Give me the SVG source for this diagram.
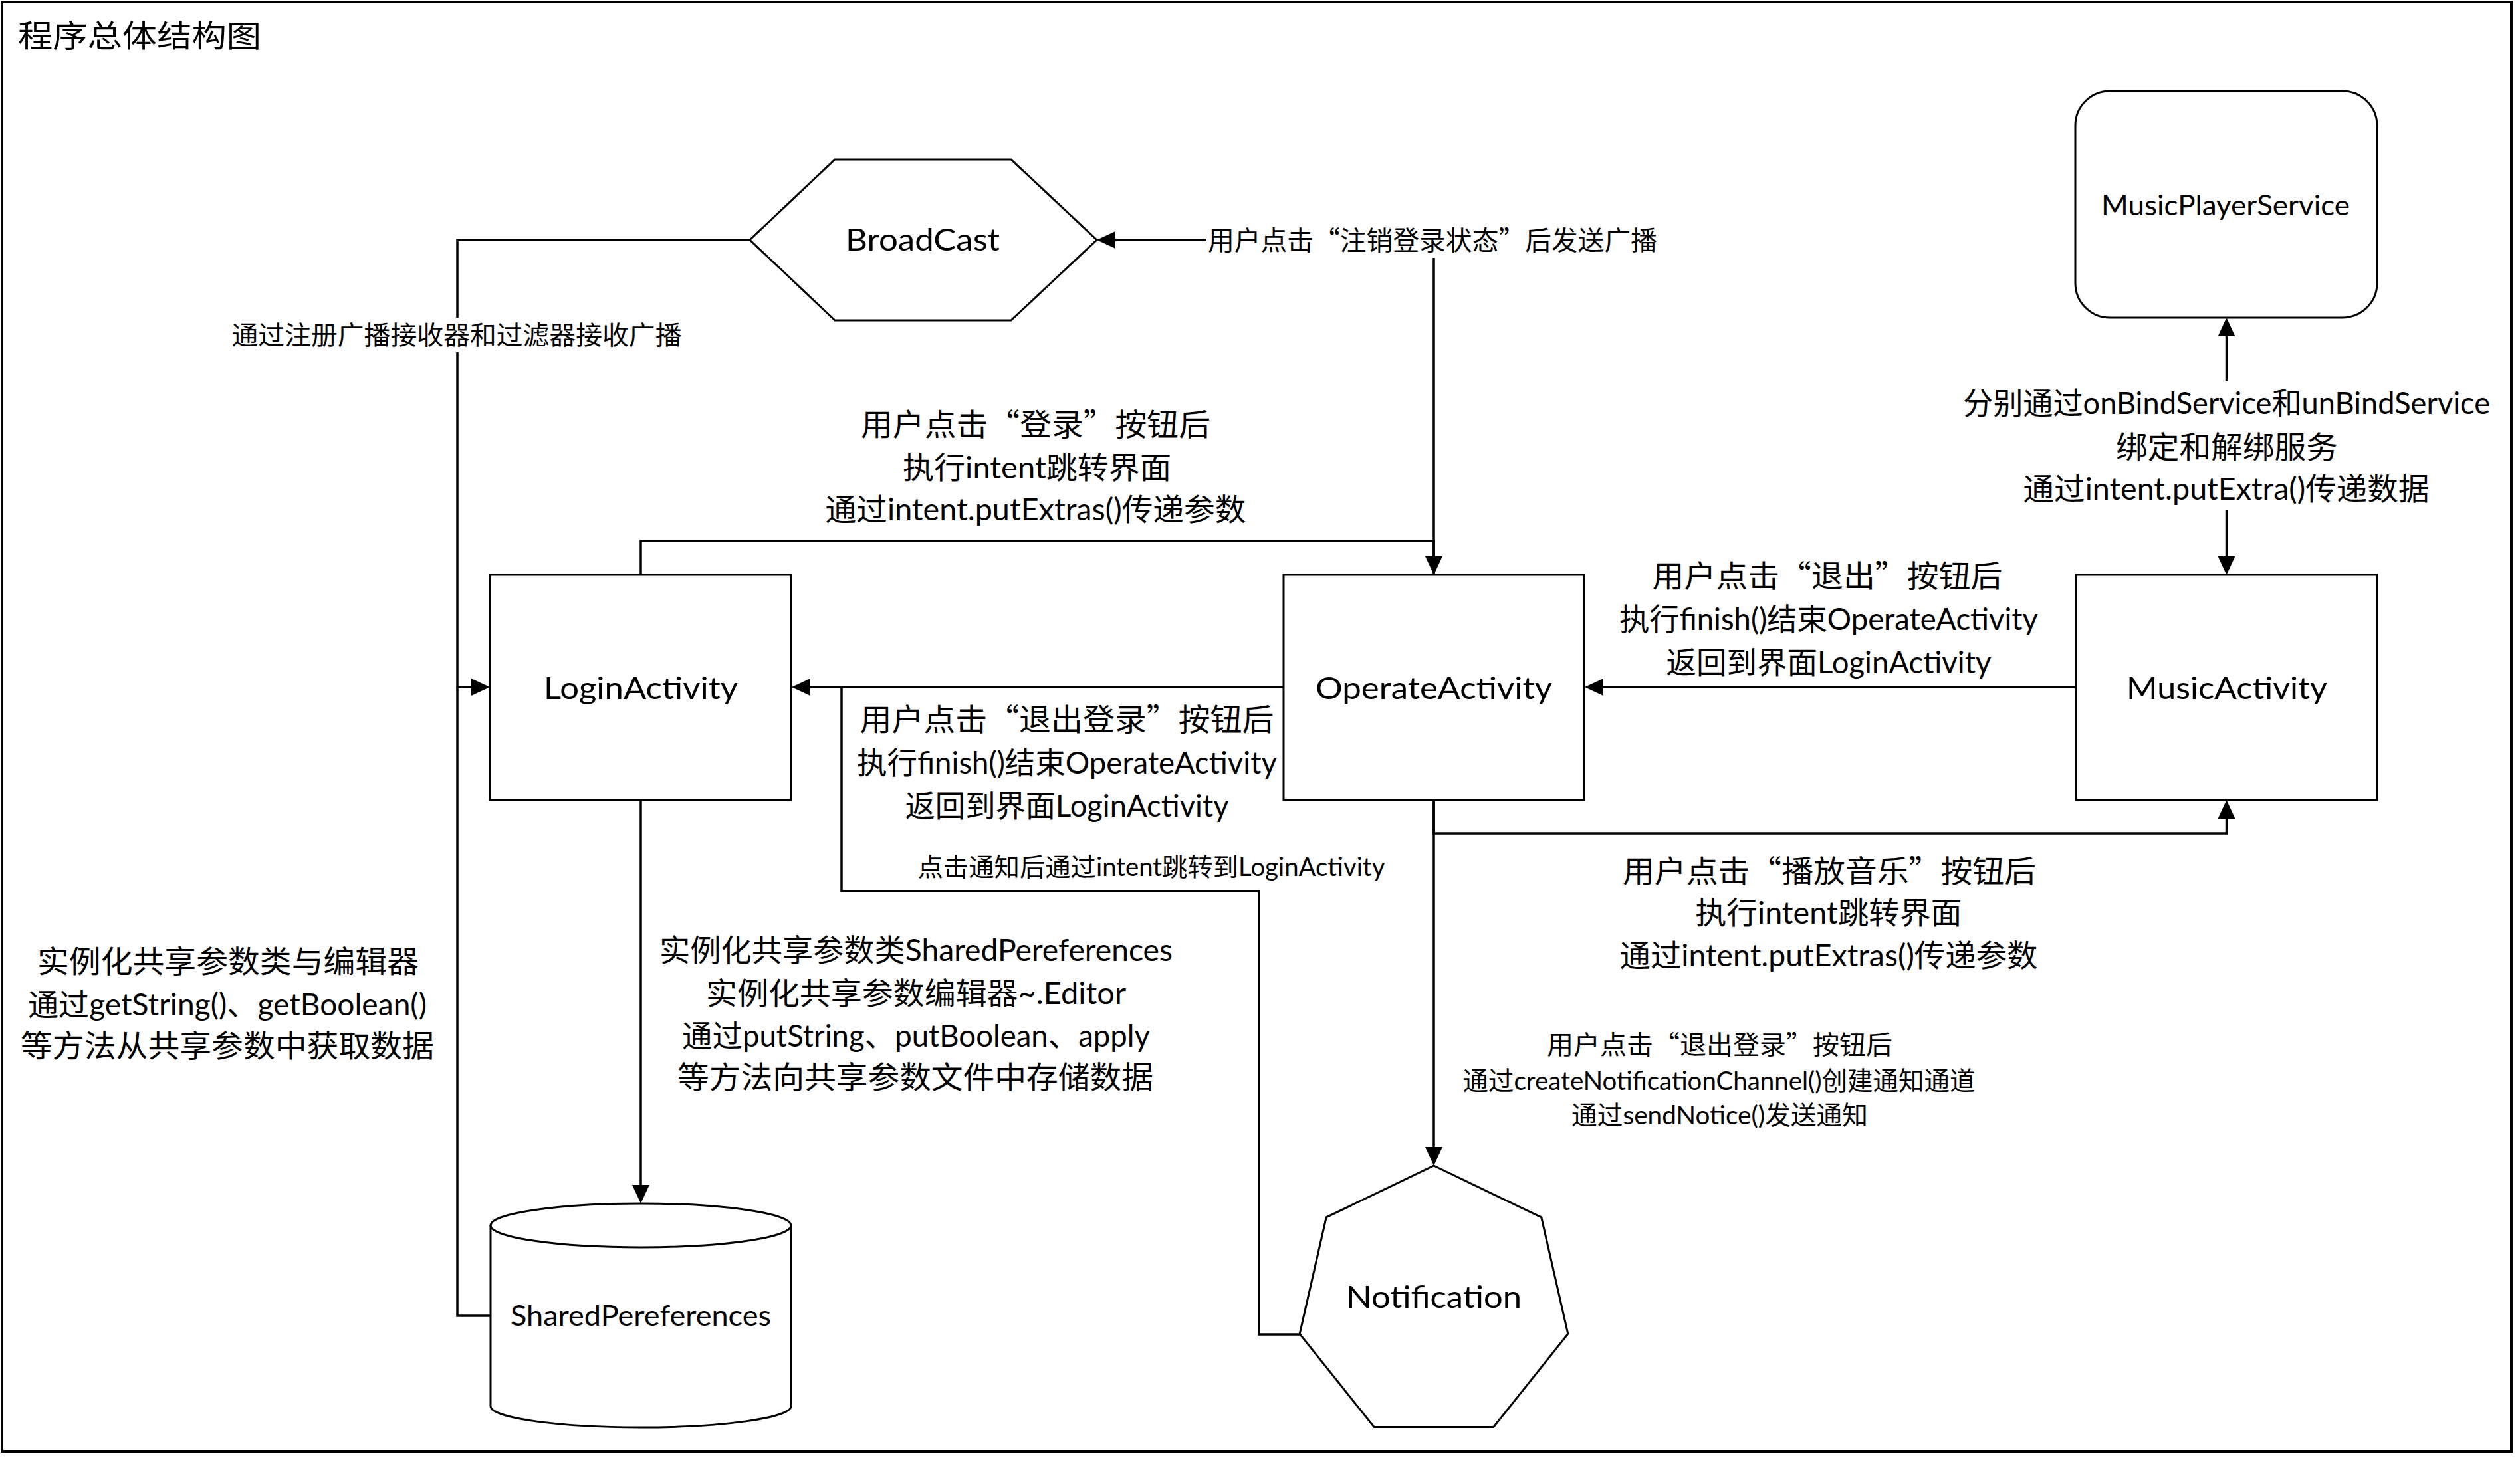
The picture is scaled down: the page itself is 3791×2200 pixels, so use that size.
<svg xmlns="http://www.w3.org/2000/svg" width="3791" height="2200" viewBox="0 0 3791 2200">
  <style>
    .t { font-family: Lato, "Noto Sans CJK SC", sans-serif; fill: #000; }
    .q { font-family: "Noto Sans CJK SC", sans-serif; }
    .c { text-anchor: middle; }
    .lbl { font-size: 46px; }
    .sm { font-size: 39px; }
    .nd { font-size: 47px; }
    .nd2 { font-size: 42px; }
    .shape { fill: #fff; stroke: #000; stroke-width: 3; }
    .wire { fill: none; stroke: #000; stroke-width: 3.5; }
    .bg { fill: #fff; stroke: none; }
  </style>
  <defs>
    <marker id="arrow" markerUnits="userSpaceOnUse" markerWidth="30" markerHeight="28" viewBox="0 -14 30 28" refX="0" refY="0" orient="auto-start-reverse">
      <path d="M0,-13 L28,0 L0,13 Z" fill="#000"/>
    </marker>
  </defs>

  <!-- frame -->
  <rect x="0" y="0" width="3791" height="2200" fill="#fff"/>
  <rect x="3" y="3" width="3775" height="2181" fill="none" stroke="#000" stroke-width="4"/>
  <text class="t" x="27" y="70" font-size="46" textLength="366" lengthAdjust="spacingAndGlyphs">程序总体结构图</text>

  <!-- connectors -->
  <g id="connectors">
    <!-- BroadCast -> LoginActivity -->
    <path class="wire" d="M1128,361 H688 V1034 H709" marker-end="url(#arrow)"/>
    <!-- SharedPereferences -> LoginActivity -->
    <path class="wire" d="M738,1980 H688 V1034"/>
    <!-- LoginActivity -> OperateActivity -->
    <path class="wire" d="M964,865 V814 H2157 V837" marker-end="url(#arrow)"/>
    <!-- OperateActivity -> BroadCast -->
    <path class="wire" d="M2157,865 V361 H1678" marker-end="url(#arrow)"/>
    <!-- OperateActivity -> LoginActivity -->
    <path class="wire" d="M1931,1034 H1219" marker-end="url(#arrow)"/>
    <!-- Notification -> LoginActivity -->
    <path class="wire" d="M1955,2008 H1894 V1341 H1266 V1034"/>
    <!-- LoginActivity -> SharedPereferences -->
    <path class="wire" d="M964,1204 V1783" marker-end="url(#arrow)"/>
    <!-- MusicActivity -> OperateActivity -->
    <path class="wire" d="M3123,1034 H2412" marker-end="url(#arrow)"/>
    <!-- OperateActivity -> MusicActivity -->
    <path class="wire" d="M2157,1204 V1254 H3349.5 V1232" marker-end="url(#arrow)"/>
    <!-- OperateActivity -> Notification -->
    <path class="wire" d="M2157,1204 V1726" marker-end="url(#arrow)"/>
    <!-- MusicActivity <-> MusicPlayerService -->
    <path class="wire" d="M3349.5,837 V506" marker-start="url(#arrow)" marker-end="url(#arrow)"/>

    <!-- connector labels -->
    <rect class="bg" x="345" y="478" width="684" height="52"/>
    <text class="t c sm" x="687" y="518" textLength="677" lengthAdjust="spacingAndGlyphs">通过注册广播接收器和过滤器接收广播</text>

    <rect class="bg" x="1815" y="338" width="682" height="50"/>
    <text class="t c" font-size="40" x="2155" y="376" textLength="676" lengthAdjust="spacingAndGlyphs">用户点击<tspan class="q">“</tspan>注销登录状态<tspan class="q">”</tspan>后发送广播</text>

    <text class="t c lbl" x="1558" y="655" textLength="526" lengthAdjust="spacingAndGlyphs">用户点击<tspan class="q">“</tspan>登录<tspan class="q">”</tspan>按钮后</text>
    <text class="t c lbl" x="1560" y="720" textLength="404" lengthAdjust="spacingAndGlyphs">执行intent跳转界面</text>
    <text class="t c lbl" x="1558" y="783" textLength="633" lengthAdjust="spacingAndGlyphs">通过intent.putExtras()传递参数</text>

    <text class="t c lbl" x="1605" y="1099" textLength="623" lengthAdjust="spacingAndGlyphs">用户点击<tspan class="q">“</tspan>退出登录<tspan class="q">”</tspan>按钮后</text>
    <text class="t c lbl" x="1605" y="1164" textLength="632" lengthAdjust="spacingAndGlyphs">执行finish()结束OperateActivity</text>
    <text class="t c lbl" x="1605" y="1229" textLength="487" lengthAdjust="spacingAndGlyphs">返回到界面LoginActivity</text>

    <text class="t c" font-size="38" x="1732" y="1318" textLength="703" lengthAdjust="spacingAndGlyphs">点击通知后通过intent跳转到LoginActivity</text>

    <text class="t c lbl" x="2749" y="883" textLength="527" lengthAdjust="spacingAndGlyphs">用户点击<tspan class="q">“</tspan>退出<tspan class="q">”</tspan>按钮后</text>
    <text class="t c lbl" x="2751" y="948" textLength="630" lengthAdjust="spacingAndGlyphs">执行finish()结束OperateActivity</text>
    <text class="t c lbl" x="2751" y="1013" textLength="489" lengthAdjust="spacingAndGlyphs">返回到界面LoginActivity</text>

    <text class="t c lbl" x="2752" y="1327" textLength="622" lengthAdjust="spacingAndGlyphs">用户点击<tspan class="q">“</tspan>播放音乐<tspan class="q">”</tspan>按钮后</text>
    <text class="t c lbl" x="2751" y="1390" textLength="401" lengthAdjust="spacingAndGlyphs">执行intent跳转界面</text>
    <text class="t c lbl" x="2751" y="1454" textLength="629" lengthAdjust="spacingAndGlyphs">通过intent.putExtras()传递参数</text>

    <text class="t c sm" x="2587" y="1586" textLength="520" lengthAdjust="spacingAndGlyphs">用户点击<tspan class="q">“</tspan>退出登录<tspan class="q">”</tspan>按钮后</text>
    <text class="t c sm" x="2586" y="1640" textLength="771" lengthAdjust="spacingAndGlyphs">通过createNotificationChannel()创建通知通道</text>
    <text class="t c sm" x="2587" y="1692" textLength="446" lengthAdjust="spacingAndGlyphs">通过sendNotice()发送通知</text>

    <text class="t c lbl" x="343" y="1463" textLength="574" lengthAdjust="spacingAndGlyphs">实例化共享参数类与编辑器</text>
    <text class="t c lbl" x="342" y="1528" textLength="600" lengthAdjust="spacingAndGlyphs">通过getString()、getBoolean()</text>
    <text class="t c lbl" x="342" y="1590" textLength="622" lengthAdjust="spacingAndGlyphs">等方法从共享参数中获取数据</text>

    <text class="t c lbl" x="1378" y="1446" textLength="772" lengthAdjust="spacingAndGlyphs">实例化共享参数类SharedPereferences</text>
    <text class="t c lbl" x="1378" y="1511" textLength="632" lengthAdjust="spacingAndGlyphs">实例化共享参数编辑器~.Editor</text>
    <text class="t c lbl" x="1378" y="1575" textLength="704" lengthAdjust="spacingAndGlyphs">通过putString、putBoolean、apply</text>
    <text class="t c lbl" x="1377" y="1637" textLength="716" lengthAdjust="spacingAndGlyphs">等方法向共享参数文件中存储数据</text>

    <rect class="bg" x="2948" y="573" width="802" height="195"/>
    <text class="t c lbl" x="3349.5" y="623" textLength="793" lengthAdjust="spacingAndGlyphs">分别通过onBindService和unBindService</text>
    <text class="t c lbl" x="3350" y="689" textLength="334" lengthAdjust="spacingAndGlyphs">绑定和解绑服务</text>
    <text class="t c lbl" x="3349" y="752" textLength="611" lengthAdjust="spacingAndGlyphs">通过intent.putExtra()传递数据</text>
  </g>

  <!-- nodes -->
  <g id="broadcast">
    <polygon class="shape" points="1128,361 1256,240 1521,240 1650,361 1521,482 1256,482"/>
    <text class="t c nd" x="1388" y="377" textLength="232" lengthAdjust="spacingAndGlyphs">BroadCast</text>
  </g>
  <g id="login-activity">
    <rect class="shape" x="737" y="865" width="453" height="339"/>
    <text class="t c nd" x="964" y="1052" textLength="292" lengthAdjust="spacingAndGlyphs">LoginActivity</text>
  </g>
  <g id="operate-activity">
    <rect class="shape" x="1931" y="865" width="452" height="339"/>
    <text class="t c nd" x="2157" y="1052" textLength="356" lengthAdjust="spacingAndGlyphs">OperateActivity</text>
  </g>
  <g id="music-activity">
    <rect class="shape" x="3123" y="865" width="453" height="339"/>
    <text class="t c nd" x="3350" y="1052" textLength="302" lengthAdjust="spacingAndGlyphs">MusicActivity</text>
  </g>
  <g id="music-player-service">
    <rect class="shape" x="3122" y="137" width="454" height="341" rx="52" ry="52"/>
    <text class="t c nd2" x="3348" y="324" textLength="374" lengthAdjust="spacingAndGlyphs">MusicPlayerService</text>
  </g>
  <g id="shared-preferences">
    <path class="shape" d="M738,1844 A226,33 0 0 1 1190,1844 V2116 A226,32 0 0 1 738,2116 Z"/>
    <path class="shape" fill="none" d="M738,1844 A226,33 0 0 0 1190,1844"/>
    <text class="t c nd2" x="964" y="1995" textLength="392" lengthAdjust="spacingAndGlyphs">SharedPereferences</text>
  </g>
  <g id="notification">
    <polygon class="shape" points="2157,1754 2318.8,1831.9 2358.8,2007.1 2246.8,2147.5 2067.2,2147.5 1955.2,2007.1 1995.2,1831.9"/>
    <text class="t c nd" x="2157" y="1968" textLength="264" lengthAdjust="spacingAndGlyphs">Notification</text>
  </g>
</svg>
